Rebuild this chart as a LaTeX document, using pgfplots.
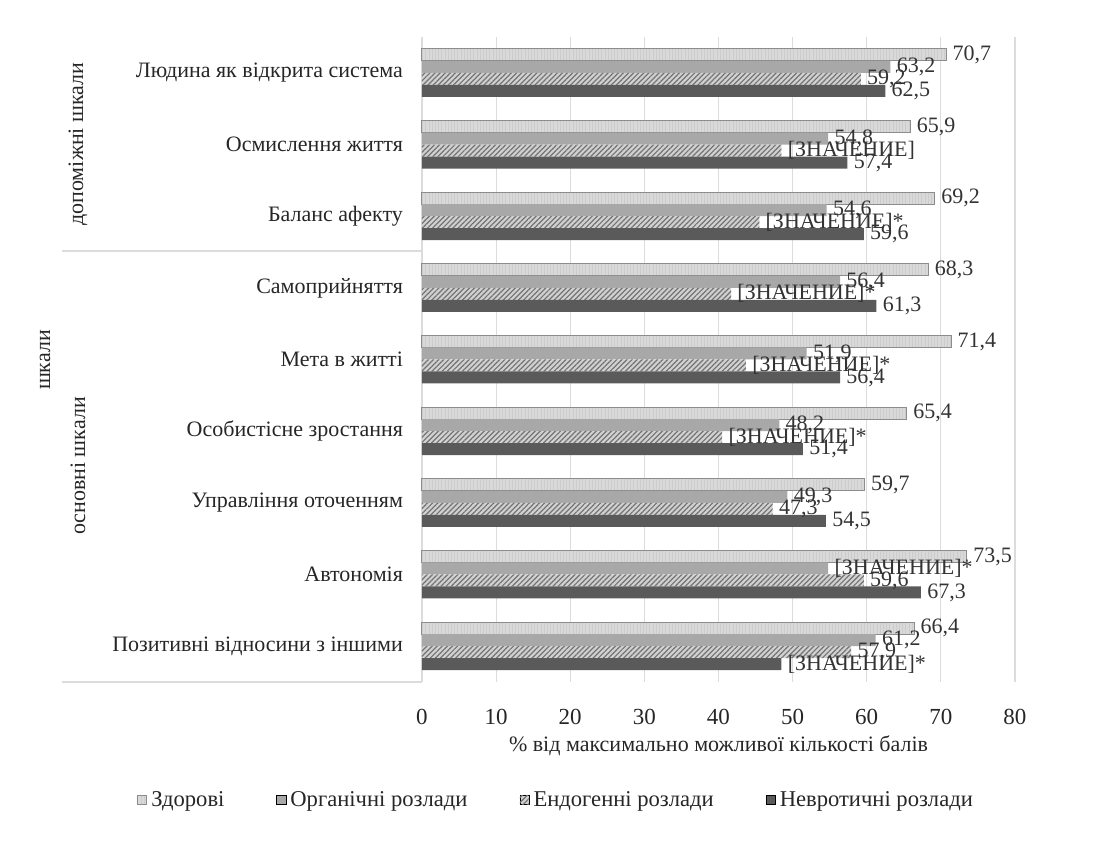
\documentclass[border=0pt]{standalone}
\usepackage{fontspec}
\setmainfont{Liberation Serif}
\usepackage{pgfplots}
\pgfplotsset{compat=1.18}
\usepackage{pgfplotstable}
\usetikzlibrary{patterns.meta}

\newcommand{\zn}{[ЗНАЧЕНИЕ]}

% y: scale index from bottom (0) to top (8); x: percent; lbl: data label
\pgfplotstableread{
y x lbl
0 66.4 66,4
1 73.5 73,5
2 59.7 59,7
3 65.4 65,4
4 71.4 71,4
5 68.3 68,3
6 69.2 69,2
7 65.9 65,9
8 70.7 70,7
}\zdorovi
\pgfplotstableread{
y x lbl
0 61.2 61,2
1 54.8 \zn*
2 49.3 49,3
3 48.2 48,2
4 51.9 51,9
5 56.4 56,4
6 54.6 54,6
7 54.8 54,8
8 63.2 63,2
}\orhanichni
\pgfplotstableread{
y x lbl
0 57.9 57,9
1 59.6 59,6
2 47.3 47,3
3 40.5 \zn*
4 43.7 \zn*
5 41.7 \zn*
6 45.5 \zn*
7 48.5 \zn
8 59.2 59,2
}\endohenni
\pgfplotstableread{
y x lbl
0 48.5 \zn*
1 67.3 67,3
2 54.5 54,5
3 51.4 51,4
4 56.4 56,4
5 61.3 61,3
6 59.6 59,6
7 57.4 57,4
8 62.5 62,5
}\nevrotychni

\definecolor{cHealthy}{HTML}{D9D9D9}
\definecolor{cOrg}{HTML}{A8A8A8}
\definecolor{cNevr}{HTML}{5A5A5A}
\definecolor{cGrid}{HTML}{DCDCDC}

\begin{document}
\begin{tikzpicture}
\useasboundingbox (-211pt,-81pt) rectangle (336pt,341pt);
\begin{axis}[
  at={(0,0)}, anchor=south west,
  scale only axis,
  width=296.5pt, height=322.5pt,
  xbar, bar width=6pt,
  xmin=0, xmax=80,
  ymin=-0.5, ymax=8.5,
  xtick={0,10,...,80},
  ytick={0,...,8},
  yticklabels={Позитивні відносини з іншими, Автономія, Управління оточенням,
    Особистісне зростання, Мета в житті, Самоприйняття, Баланс афекту,
    Осмислення життя, Людина як відкрита система},
  /pgf/number format/assume math mode=true,
  tick label style={font=\fontsize{11.5}{13}\selectfont, black!85},
  yticklabel style={font=\fontsize{11}{13}\selectfont, xshift=-6pt},
  xticklabel style={yshift=-10pt},
  major tick length=0pt,
  xmajorgrids, grid style={cGrid, line width=0.6pt},
  axis x line*=bottom, axis y line*=left,
  x axis line style={draw=none},
  y axis line style={cGrid, line width=0.6pt, -},
  clip=false,
  xlabel={\% від максимально можливої кількості балів},
  xlabel style={font=\fontsize{11}{13}\selectfont, black!85, at={(axis description cs:0.5,0)}, anchor=center, yshift=-32pt},
  point meta=explicit symbolic,
  nodes near coords,
  every node near coord/.append style={anchor=west, font=\fontsize{11}{13}\selectfont, inner sep=1pt, xshift=2pt, black!80},
  legend columns=4,
  legend style={draw=none, fill=none, at={(axis description cs:0.2277,-0.183)}, anchor=center,
    font=\fontsize{11.3}{13}\selectfont, text=black!85,
    /tikz/every even column/.append style={column sep=24pt}},
  legend image code/.code={\draw[#1] (0pt,-2.3pt) rectangle (4.6pt,2.3pt);},
]
\addplot[bar shift=9pt, fill=cHealthy, draw=black!45, line width=0.5pt,
  postaction={pattern={Lines[angle=90,distance=1.6pt,line width=0.3pt]}, pattern color=black!20}]
  table[x=x, y=y, meta=lbl]{\zdorovi};
\addplot[bar shift=3pt, fill=cOrg, draw=none]
  table[x=x, y=y, meta=lbl]{\orhanichni};
\addplot[bar shift=-3pt, fill=black!18, draw=none,
  postaction={pattern={Lines[angle=45,distance=1.8pt,line width=0.6pt]}, pattern color=black!55}]
  table[x=x, y=y, meta=lbl]{\endohenni};
\addplot[bar shift=-9pt, fill=cNevr, draw=none]
  table[x=x, y=y, meta=lbl]{\nevrotychni};
\legend{Здорові, Органічні розлади, Ендогенні розлади, Невротичні розлади}
\end{axis}
% separators of the two scale groups on the left
\draw[cGrid, line width=0.6pt] (-180pt,215.5pt) -- (0pt,215.5pt);
\draw[cGrid, line width=0.6pt] (-180pt,0pt) -- (0pt,0pt);
\node[rotate=90, font=\fontsize{11}{13}\selectfont, black!85] at (-172pt,269pt) {допоміжні шкали};
\node[rotate=90, font=\fontsize{11}{13}\selectfont, black!85] at (-172pt,108pt) {основні шкали};
\node[rotate=90, font=\fontsize{11}{13}\selectfont, black!85] at (-188.5pt,161pt) {шкали};
\end{tikzpicture}
\end{document}
